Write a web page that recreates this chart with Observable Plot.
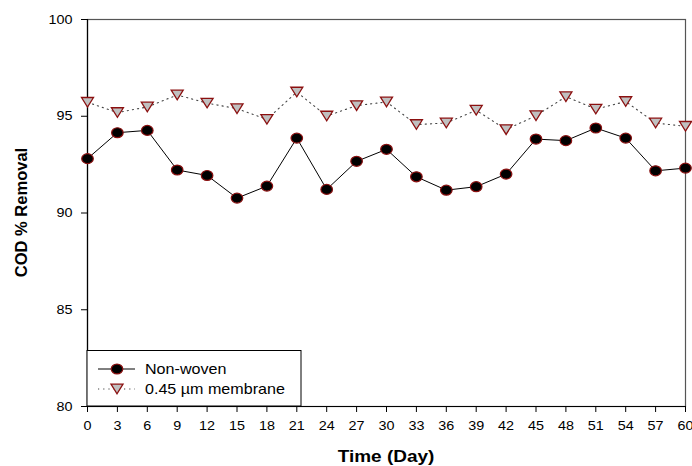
<!DOCTYPE html>
<html><head><meta charset="utf-8">
<script src="https://cdn.jsdelivr.net/npm/d3@7"></script>
<script src="https://cdn.jsdelivr.net/npm/@observablehq/plot@0.6"></script>
<style>
body{margin:0;background:#fff;}
#chart{position:relative;width:692px;height:466px;}
</style>
</head><body><div id="chart"></div>
<script>
const days = [0,3,6,9,12,15,18,21,24,27,30,33,36,39,42,45,48,51,54,57,60];
const nonWoven = [92.81,94.15,94.27,92.22,91.94,90.77,91.39,93.87,91.22,92.67,93.29,91.87,91.18,91.36,92.01,93.82,93.74,94.39,93.87,92.18,92.32];
const membrane = [95.72,95.19,95.48,96.10,95.68,95.39,94.84,96.25,95.01,95.55,95.74,94.57,94.65,95.31,94.31,95.03,96.01,95.37,95.76,94.65,94.48];
const xTicks = [0,3,6,9,12,15,18,21,24,27,30,33,36,39,42,45,48,51,54,57,60];
const yTicks = [80,85,90,95,100];
const seriesNames = ["Non-woven","0.45 µm membrane"];
const xLabel = "Time (Day)";
const yLabel = "COD % Removal";

const FONT = "'Liberation Sans', Arial, sans-serif";
const RED = "#8b1010";
const STRETCH = 1.15;

// slightly wide ellipse (reference is horizontally stretched)
const ellipse = {
  draw(ctx, size) {
    const r = Math.sqrt(size / Math.PI);
    const rx = r * 1.07, ry = r * 0.92, k = 0.5523;
    ctx.moveTo(rx, 0);
    ctx.bezierCurveTo(rx, ry * k, rx * k, ry, 0, ry);
    ctx.bezierCurveTo(-rx * k, ry, -rx, ry * k, -rx, 0);
    ctx.bezierCurveTo(-rx, -ry * k, -rx * k, -ry, 0, -ry);
    ctx.bezierCurveTo(rx * k, -ry, rx, -ry * k, rx, 0);
    ctx.closePath();
  }
};
const triangleDown = {
  draw(ctx, size) {
    const r = Math.sqrt(size / Math.PI);
    const w = r * 1.0, h = r * 0.8;
    ctx.moveTo(-w, -h); ctx.lineTo(w, -h); ctx.lineTo(0, h); ctx.closePath();
  }
};

const nw = days.map((d, i) => ({day: d, value: nonWoven[i]}));
const mb = days.map((d, i) => ({day: d, value: membrane[i]}));

const chart = Plot.plot({
  width: 692, height: 466,
  marginLeft: 87, marginRight: 7, marginTop: 19, marginBottom: 60,
  style: {fontFamily: FONT, fontSize: "12.5px", color: "#000", background: "#fff", overflow: "visible"},
  x: {domain: [0, 60]},
  y: {domain: [80, 100]},
  marks: [
    Plot.frame({stroke: "#555", strokeWidth: 1.2}),
    Plot.ruleX([0], {stroke: "#000", strokeWidth: 1.2}),
    Plot.ruleY([80], {stroke: "#000", strokeWidth: 1.2}),
    Plot.axisX({ticks: xTicks, tickSize: 6, tickPadding: 9, label: null, fontSize: 12.5}),
    Plot.axisY({ticks: yTicks, tickSize: 6, tickPadding: 9, label: null, fontSize: 12.5}),
    Plot.line(mb, {x: "day", y: "value", stroke: "#444", strokeWidth: 1.1, strokeDasharray: "1.2,4"}),
    Plot.line(nw, {x: "day", y: "value", stroke: "#000", strokeWidth: 1}),
    Plot.dot(mb, {x: "day", y: "value", symbol: triangleDown, r: 6, fill: "#c0c0c0", stroke: RED, strokeWidth: 1.3}),
    Plot.dot(nw, {x: "day", y: "value", symbol: ellipse, r: 5.4, fill: "#000", stroke: RED, strokeWidth: 1.2})
  ]
});
document.getElementById("chart").appendChild(chart);

const xs = chart.scale("x"), ys = chart.scale("y");
const svg = d3.select(chart);
const pLeft = xs.apply(0), pRight = xs.apply(60), pTop = ys.apply(100), pBottom = ys.apply(80);

// stretch tick labels horizontally about their anchor like the reference
svg.selectAll("text").each(function() {
  const el = d3.select(this);
  const x = +el.attr("x") || 0, y = +el.attr("y") || 0;
  const t = el.attr("transform") || "";
  el.attr("transform", `${t} translate(${x},${y}) scale(${STRETCH},1) translate(${-x},${-y})`);
});

function hText(x, y, str, opts) {
  const g = svg.append("g").attr("transform", `translate(${x},${y}) scale(${STRETCH},1)`);
  return g.append("text").attr("x", 0).attr("y", 0)
    .attr("text-anchor", opts.anchor).attr("font-family", FONT).attr("font-size", opts.size)
    .attr("font-weight", opts.weight || "normal").attr("dy", opts.dy || null)
    .attr("fill", "#000").text(str);
}

// axis titles
hText((pLeft + pRight) / 2, 462, xLabel, {anchor: "middle", size: 16.5, weight: "bold"});
svg.append("text").attr("transform", `translate(26.5,${(pTop + pBottom) / 2}) rotate(-90)`)
  .attr("text-anchor", "middle").attr("font-family", FONT).attr("font-size", 16.5).attr("font-weight", "bold")
  .attr("fill", "#000").text(yLabel);

// legend
const lw = 214, lh = 55.5;
svg.append("rect").attr("x", pLeft).attr("y", pBottom - lh).attr("width", lw).attr("height", lh)
  .attr("fill", "#fff").attr("stroke", "#000").attr("stroke-width", 1);
const rows = [pBottom - 37, pBottom - 17];
svg.append("line").attr("x1", pLeft + 11).attr("x2", pLeft + 48).attr("y1", rows[0]).attr("y2", rows[0]).attr("stroke", "#000");
const epath = d3.path(); ellipse.draw(epath, Math.PI * 5.4 * 5.4);
svg.append("path").attr("d", epath.toString()).attr("transform", `translate(${pLeft + 30},${rows[0]})`)
  .attr("fill", "#000").attr("stroke", RED).attr("stroke-width", 1.2);
hText(pLeft + 58, rows[0], seriesNames[0], {anchor: "start", size: 14, dy: "0.35em"});
svg.append("line").attr("x1", pLeft + 11).attr("x2", pLeft + 48).attr("y1", rows[1]).attr("y2", rows[1])
  .attr("stroke", "#444").attr("stroke-width", 1.1).attr("stroke-dasharray", "1.2,4");
const tpath = d3.path(); triangleDown.draw(tpath, Math.PI * 36);
svg.append("path").attr("d", tpath.toString()).attr("transform", `translate(${pLeft + 30},${rows[1]})`)
  .attr("fill", "#c0c0c0").attr("stroke", RED).attr("stroke-width", 1.3);
hText(pLeft + 58, rows[1], seriesNames[1], {anchor: "start", size: 14, dy: "0.35em"});
</script>
</body></html>
